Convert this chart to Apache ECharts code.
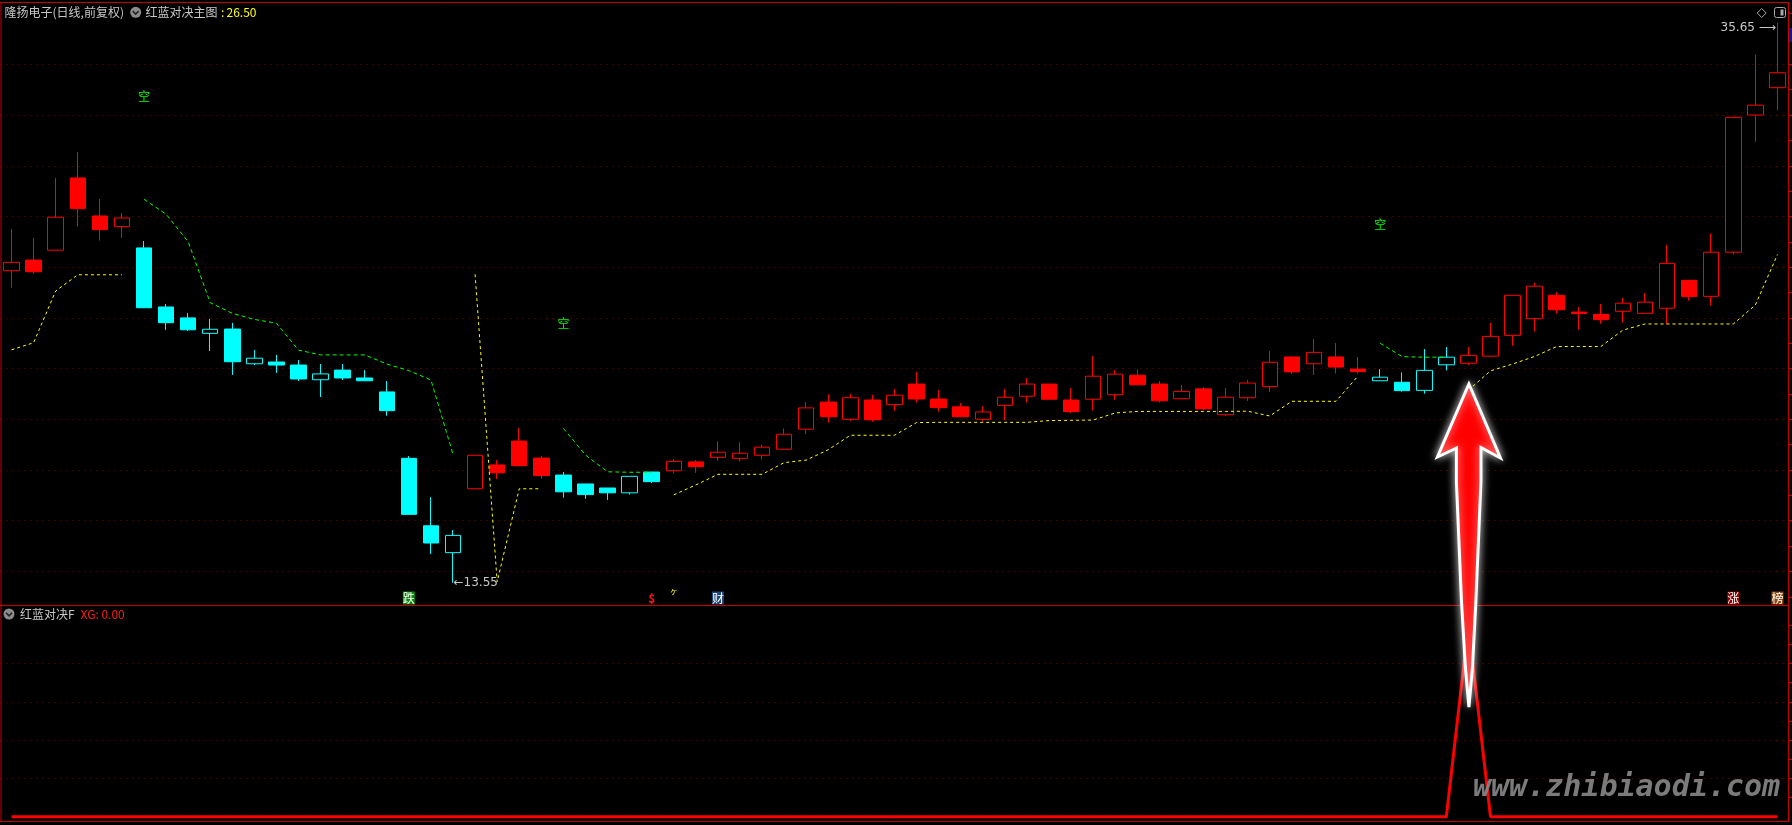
<!DOCTYPE html>
<html><head><meta charset="utf-8">
<script src="https://cdn.jsdelivr.net/npm/echarts@6/dist/echarts.min.js"></script>
<style>html,body{margin:0;padding:0;background:#000;overflow:hidden}#c{width:1792px;height:825px}</style>
</head><body><div id="c"></div>
<script>
// ---------------- data ----------------
const categories = Array.from({length: 81}, (_, i) => 'D' + (i + 1));

const opens = [25.86,26.28,26.67,29.52,28.02,27.60,26.76,24.43,24.00,23.39,
23.56,22.19,22.26,22.14,21.56,21.94,21.63,21.08,18.46,15.80,
14.74,17.26,18.20,19.14,18.47,17.80,17.45,17.29,17.10,17.92,
17.97,18.32,18.50,18.46,18.58,18.82,19.61,20.68,20.00,20.76,
20.58,21.39,20.80,20.49,20.00,20.55,20.91,21.39,20.76,20.79,
20.97,21.74,21.39,20.81,21.20,20.18,20.85,21.29,22.46,22.19,
22.46,21.98,21.52,21.46,21.14,22.15,22.21,22.49,23.31,23.97,
24.89,24.23,24.14,24.26,24.18,24.38,25.48,24.85,26.59,32.00,
33.08];
const closes = [26.19,25.82,27.97,28.31,27.48,27.94,24.40,23.81,23.53,23.55,
22.27,22.41,22.14,21.59,21.79,21.63,21.52,20.34,16.25,15.12,
15.42,18.58,17.89,18.17,17.78,17.14,17.03,17.10,17.75,17.54,
18.34,18.13,18.70,18.66,18.90,19.41,20.45,20.10,20.85,19.98,
20.95,20.80,20.46,20.10,20.29,20.87,21.39,20.79,20.30,21.70,
21.78,21.36,20.73,21.10,20.41,20.87,21.43,22.25,21.87,22.64,
22.06,21.88,21.66,21.13,21.93,22.45,22.52,23.27,24.89,25.25,
24.32,24.17,23.93,24.58,24.62,26.15,24.84,26.59,31.91,32.39,
33.67];
const lows = [25.19,25.74,26.67,27.60,27.05,27.16,24.40,23.53,23.48,22.69,
21.75,22.14,21.83,21.51,20.88,21.55,21.52,20.14,16.25,14.69,
13.55,17.26,17.64,18.17,17.65,16.91,16.86,16.82,17.03,17.48,
17.87,17.89,18.36,18.33,18.42,18.82,19.41,19.87,19.93,19.90,
20.33,20.66,20.30,20.10,19.92,19.97,20.66,20.79,20.25,20.34,
20.77,21.33,20.66,20.81,20.37,20.13,20.72,21.08,21.79,21.75,
21.80,21.80,21.52,21.09,21.01,21.93,22.14,22.49,22.90,23.46,
24.17,23.53,23.77,23.81,24.18,23.76,24.68,24.48,26.51,30.95,
32.19];
const highs = [27.51,27.15,29.52,30.54,28.69,28.14,27.03,24.55,24.19,23.96,
23.80,22.73,22.54,22.34,22.18,22.18,21.94,21.51,18.55,16.93,
15.63,18.58,18.39,19.66,18.55,17.92,17.45,17.29,17.75,17.92,
18.43,18.39,19.13,19.09,18.99,19.64,20.68,20.99,21.00,20.96,
21.20,21.87,21.16,20.64,20.52,21.20,21.63,21.39,21.23,22.50,
21.94,21.97,21.51,21.35,21.27,21.23,21.55,22.69,22.50,23.17,
23.01,22.46,21.98,21.85,22.77,22.85,22.85,23.80,24.89,25.38,
25.02,24.43,24.55,24.79,24.98,26.88,25.48,27.33,31.91,34.39,
35.65];

// 红蓝对决主图: yellow support line (red phase) and green resistance line (blue phase)
const supportLine = [22.74,23.02,25.06,25.70,25.70,25.70,null,null,null,null,
null,null,null,null,null,null,null,null,null,null,
null,25.72,13.59,17.26,17.26,null,null,null,null,null,
17.02,17.41,17.83,17.83,17.83,18.29,18.39,18.80,19.37,19.37,
19.37,19.87,19.88,19.88,19.88,19.88,19.88,19.95,19.96,19.97,
20.25,20.31,20.31,20.31,20.31,20.31,20.32,20.13,20.71,20.71,
20.71,21.71,null,null,null,null,21.15,21.91,22.18,22.48,
22.87,22.87,22.87,23.52,23.76,23.76,23.76,23.76,23.76,24.51,
26.50];
const resistLine = [null,null,null,null,null,null,28.68,28.09,27.01,24.60,
24.18,23.94,23.79,22.73,22.54,22.54,22.54,22.18,21.92,21.55,
18.62,null,null,null,null,19.64,18.59,17.93,17.91,17.91,
null,null,null,null,null,null,null,null,null,null,
null,null,null,null,null,null,null,null,null,null,
null,null,null,null,null,null,null,null,null,null,
null,null,23.00,22.47,22.45,22.45,null,null,null,null,
null,null,null,null,null,null,null,null,null,null,
null];

// 红蓝对决F: XG signal
const xgSignal = [0,0,0,0,0,0,0,0,0,0,
0,0,0,0,0,0,0,0,0,0,
0,0,0,0,0,0,0,0,0,0,
0,0,0,0,0,0,0,0,0,0,
0,0,0,0,0,0,0,0,0,0,
0,0,0,0,0,0,0,0,0,0,
0,0,0,0,0,0,1,0,0,0,
0,0,0,0,0,0,0,0,0,0,
0];

// "空" marks (candle index, price level)
const kongMarks = [{i: 6, v: 32.75}, {i: 25, v: 23.80}, {i: 62, v: 27.67}];
// bottom signal badges
const signalMarks = [
  {i: 18, text: '跌', color: '#ffffff', bg: '#0a8a0a'},
  {i: 29, text: '$', color: '#ff1010', bg: null},
  {i: 30, text: 'ヶ', color: '#ffff00', bg: null, small: true},
  {i: 32, text: '财', color: '#ffffff', bg: '#1d4577'},
  {i: 78, text: '涨', color: '#ffffff', bg: '#8a0000'},
  {i: 80, text: '榜', color: '#ffffff', bg: '#8a4a12'}
];

// tick values
const mainAxisTicks = [13,14,15,16,17,18,19,20,21,22,23,24,25,26,27,28,29,30,31,32,33,34,35,36];
const mainGridTicks = [14,16,18,20,22,24,26,28,30,32,34];
const subAxisTicks = [0.1,0.2,0.3,0.4,0.5,0.6,0.7,0.8,0.9,1.0];
const subGridTicks = [0.2,0.4,0.6,0.8];

const titleMain = '隆扬电子(日线,前复权)';
const indicatorMain = '红蓝对决主图';
const indicatorMainValue = '26.50';
const indicatorSub = '红蓝对决F';
const indicatorSubValue = 'XG: 0.00';

// ---------------- chart ----------------
const BORDER = '#c80000';
const GRIDC = '#850000';
const FONT = '"Noto Sans CJK SC", "Liberation Sans", sans-serif';
const MAIN_MIN = 12.675, MAIN_MAX = 36.42, SUB_MIN = -0.0225, SUB_MAX = 1.1055;
const SIGNAL_LEVEL = 12.95;

const chart = echarts.init(document.getElementById('c'), null, {renderer: 'canvas'});

const candleData = categories.map((_, i) => {
  const col = supportLine[i] != null ? '#ff0000' : '#00ffff';
  const fill = closes[i] < opens[i] ? col : '#000000';
  return {value: [opens[i], closes[i], lows[i], highs[i]],
    itemStyle: {color: fill, color0: fill, borderColor: col, borderColor0: col, borderWidth: 1}};
});

const hiIdx = highs.indexOf(Math.max(...highs));
const loIdx = lows.indexOf(Math.min(...lows));

const markData = [
  {coord: [categories[hiIdx], highs[hiIdx]],
   label: {show: true, position: 'left', distance: 1, offset: [0, 5], formatter: highs[hiIdx].toFixed(2) + ' ⟶',
     color: '#c8c8c8', fontSize: 12, fontFamily: '"DejaVu Sans", sans-serif'}},
  {coord: [categories[loIdx], lows[loIdx]],
   label: {show: true, position: 'right', distance: 0, offset: [0, 0], formatter: '←' + lows[loIdx].toFixed(2),
     color: '#c8c8c8', fontSize: 12, fontFamily: '"DejaVu Sans", sans-serif'}}
].concat(signalMarks.map(s => ({
  coord: [categories[s.i], SIGNAL_LEVEL],
  label: {show: true, position: 'inside', formatter: s.text, color: s.color,
    backgroundColor: s.bg || 'transparent', padding: [0, 0], fontSize: s.small ? 8 : 12,
    fontWeight: s.text === '$' ? 'bold' : 'normal', offset: s.small ? [0, -7] : [0, 0],
    lineHeight: 13, fontFamily: FONT}
})));

const option = {
  backgroundColor: '#000000',
  animation: false,
  grid: [
    {left: 0.5, top: 3, width: 1788, height: 602},
    {left: 0.5, top: 605, width: 1788, height: 216}
  ],
  xAxis: [
    {type: 'category', gridIndex: 0, data: categories, boundaryGap: true, show: false},
    {type: 'category', gridIndex: 1, data: categories, boundaryGap: true, show: false}
  ],
  yAxis: [
    {type: 'value', gridIndex: 0, position: 'right', min: MAIN_MIN, max: MAIN_MAX,
     axisLine: {show: true, lineStyle: {color: BORDER, width: 1}},
     axisTick: {show: true, inside: false, length: 4, customValues: mainAxisTicks, lineStyle: {color: BORDER}},
     axisLabel: {show: false, customValues: mainAxisTicks}, splitLine: {show: false}},
    {type: 'value', gridIndex: 0, position: 'left', min: MAIN_MIN, max: MAIN_MAX,
     axisLine: {show: false}, axisTick: {show: false, customValues: mainGridTicks},
     axisLabel: {show: false, customValues: mainGridTicks},
     splitLine: {show: true, lineStyle: {color: GRIDC, width: 1, type: [1, 5]}}},
    {type: 'value', gridIndex: 1, position: 'right', min: SUB_MIN, max: SUB_MAX,
     axisLine: {show: true, lineStyle: {color: BORDER, width: 1}},
     axisTick: {show: true, inside: false, length: 4, customValues: subAxisTicks, lineStyle: {color: BORDER}},
     axisLabel: {show: false, customValues: subAxisTicks}, splitLine: {show: false}},
    {type: 'value', gridIndex: 1, position: 'left', min: SUB_MIN, max: SUB_MAX,
     axisLine: {show: false}, axisTick: {show: false, customValues: subGridTicks},
     axisLabel: {show: false, customValues: subGridTicks},
     splitLine: {show: true, lineStyle: {color: GRIDC, width: 1, type: [1, 5]}}}
  ],
  series: [
    {type: 'candlestick', name: 'K', xAxisIndex: 0, yAxisIndex: 0, barWidth: 16,
     data: candleData, itemStyle: {borderWidth: 1},
     markPoint: {symbol: 'circle', symbolSize: 1, itemStyle: {color: 'rgba(0,0,0,0)'}, silent: true, data: markData}},
    {type: 'line', name: 'support', xAxisIndex: 0, yAxisIndex: 0, data: supportLine, connectNulls: false,
     symbol: 'none', lineStyle: {color: '#ffff00', width: 1, type: [3, 3]}, z: 3},
    {type: 'line', name: 'resist', xAxisIndex: 0, yAxisIndex: 0, data: resistLine, connectNulls: false,
     symbol: 'none', lineStyle: {color: '#00ff00', width: 1, type: [4, 3]}, z: 3,
     markPoint: {symbol: 'circle', symbolSize: 1, itemStyle: {color: 'rgba(0,0,0,0)'}, silent: true,
       data: kongMarks.map(k => ({coord: [categories[k.i], k.v],
         label: {show: true, position: 'inside', formatter: '空', color: '#00ff00', fontSize: 12, fontFamily: FONT}}))}},
    {type: 'line', name: 'XG', xAxisIndex: 1, yAxisIndex: 2, data: xgSignal, symbol: 'none',
     lineStyle: {color: '#ff0000', width: 3}, z: 3}
  ]
};
chart.setOption(option);

// ---------------- decorations ----------------
const ax = chart.convertToPixel({xAxisIndex: 0}, categories[66]);
function chevronIcon(cx, cy) {
  return [
    {type: 'circle', shape: {cx: cx, cy: cy, r: 5.5}, style: {fill: '#8c8c8c'}, z: 50},
    {type: 'polyline', shape: {points: [[cx - 3, cy - 1.2], [cx, cy + 1.8], [cx + 3, cy - 1.2]]},
     style: {stroke: '#262626', lineWidth: 1.6, fill: null}, z: 51}
  ];
}
const arrowPts = [
  [ax + 0.5, 384], [ax + 32, 458], [ax + 12.5, 447.5], [ax + 12.5, 482], [ax + 7.5, 600], [ax + 4, 668], [ax + 0.5, 707],
  [ax - 3, 668], [ax - 7, 600], [ax - 12, 482], [ax - 12, 448], [ax - 31, 457]
];
const graphics = [
  // panel borders
  {type: 'line', shape: {x1: 0, y1: 2.5, x2: 1789, y2: 2.5}, style: {stroke: BORDER, lineWidth: 1}, z: 40},
  {type: 'line', shape: {x1: 1, y1: 2, x2: 1, y2: 822}, style: {stroke: BORDER, lineWidth: 1}, z: 40},
  {type: 'line', shape: {x1: 0, y1: 605.5, x2: 1789, y2: 605.5}, style: {stroke: BORDER, lineWidth: 1}, z: 40},
  {type: 'line', shape: {x1: 0, y1: 821.5, x2: 1789, y2: 821.5}, style: {stroke: BORDER, lineWidth: 1}, z: 40},
  // titles
  {type: 'text', style: {text: titleMain, x: 4.5, y: 12.5, fill: '#c8c8c8', fontSize: 12, fontFamily: FONT, verticalAlign: 'middle'}, z: 50},
  ...chevronIcon(135.7, 12.3),
  {type: 'text', style: {text: indicatorMain, x: 145.5, y: 12.5, fill: '#c8c8c8', fontSize: 12, fontFamily: FONT, verticalAlign: 'middle'}, z: 50},
  {type: 'text', style: {text: ':', x: 221, y: 12.5, fill: '#ffff00', fontSize: 12, fontFamily: FONT, verticalAlign: 'middle'}, z: 50},
  {type: 'text', style: {text: indicatorMainValue, x: 226.5, y: 12.5, fill: '#ffff00', fontSize: 12, fontFamily: FONT, verticalAlign: 'middle'}, z: 50},
  ...chevronIcon(9, 614),
  {type: 'text', style: {text: indicatorSub, x: 20, y: 614.5, fill: '#c8c8c8', fontSize: 12, fontFamily: FONT, verticalAlign: 'middle'}, z: 50},
  {type: 'text', style: {text: indicatorSubValue, x: 80.5, y: 614.5, fill: '#ff1a1a', fontSize: 12, fontFamily: FONT, verticalAlign: 'middle'}, z: 50},
  // top-right icons
  {type: 'polygon', shape: {points: [[1761.7, 8.5], [1766.2, 13], [1761.7, 17.5], [1757.2, 13]]},
   style: {stroke: '#a8a8a8', fill: null, lineWidth: 1}, z: 50},
  {type: 'rect', shape: {x: 1774.5, y: 7.5, width: 11, height: 10, r: 2}, style: {stroke: '#a8a8a8', fill: null, lineWidth: 1}, z: 50},
  {type: 'rect', shape: {x: 1780.5, y: 9.5, width: 3, height: 6}, style: {fill: '#a8a8a8'}, z: 50},
  {type: 'rect', shape: {x: 1789, y: 28, width: 4, height: 14}, style: {fill: '#14148c'}, z: 50},
  // watermark
  {type: 'text', style: {text: 'www.zhibiaodi.com', x: 1473, y: 788, fill: '#858585', fontSize: 30,
    fontStyle: 'italic', fontWeight: 'bold', fontFamily: '"DejaVu Sans Mono", monospace', verticalAlign: 'middle',
    shadowBlur: 5, shadowColor: '#000000', opacity: 0.92}, z: 60},
  // big red arrow annotation
  {type: 'polygon', shape: {points: arrowPts},
   style: {fill: '#ff0000', stroke: '#ffffff', lineWidth: 3, lineJoin: 'miter',
     shadowBlur: 8, shadowColor: 'rgba(255,255,255,0.75)'}, z: 100}
];
chart.setOption({graphic: graphics});
</script>
</body></html>
